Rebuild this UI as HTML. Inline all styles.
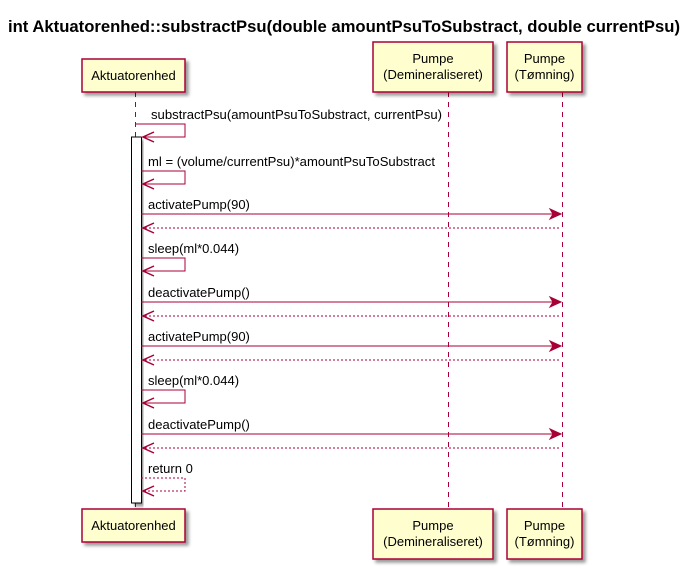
<!DOCTYPE html>
<html><head><meta charset="utf-8"><style>
html,body{margin:0;padding:0;background:#fff;}
svg{display:block;font-family:"Liberation Sans",Arial,sans-serif;}
</style></head><body>
<svg width="693" height="571" viewBox="0 0 693 571" xmlns="http://www.w3.org/2000/svg">
<defs>
<filter id="sh" x="-10%" y="-10%" width="130%" height="140%"><feGaussianBlur in="SourceAlpha" stdDeviation="1.5"/><feOffset dx="3" dy="3"/><feComponentTransfer><feFuncA type="linear" slope="0.4"/></feComponentTransfer><feMerge><feMergeNode/><feMergeNode in="SourceGraphic"/></feMerge></filter>
</defs>
<text x="344" y="32" text-anchor="middle" font-size="16.7" font-weight="bold" textLength="672" lengthAdjust="spacingAndGlyphs">int Aktuatorenhed::substractPsu(double amountPsuToSubstract, double currentPsu)</text>
<g stroke="#A80036" stroke-width="1" stroke-dasharray="5,5">
<line x1="135.5" y1="92" x2="135.5" y2="509"/>
<line x1="448.5" y1="92" x2="448.5" y2="509"/>
<line x1="562.5" y1="92" x2="562.5" y2="509"/>
</g>
<g fill="#FEFECE" stroke="#A80036" stroke-width="1.5" filter="url(#sh)">
<rect x="82" y="59" width="103" height="33"/>
<rect x="373" y="42" width="120" height="50"/>
<rect x="507" y="42" width="75" height="50"/>
<rect x="82" y="509" width="103" height="33"/>
<rect x="373" y="509" width="120" height="50"/>
<rect x="507" y="509" width="75" height="50"/>
</g>
<g font-size="13" text-anchor="middle" fill="#000">
<text x="133.5" y="80">Aktuatorenhed</text>
<text x="433" y="63">Pumpe</text><text x="433" y="79">(Demineraliseret)</text>
<text x="544.5" y="63">Pumpe</text><text x="544.5" y="79">(Tømning)</text>
<text x="133.5" y="530">Aktuatorenhed</text>
<text x="433" y="530">Pumpe</text><text x="433" y="546">(Demineraliseret)</text>
<text x="544.5" y="530">Pumpe</text><text x="544.5" y="546">(Tømning)</text>
</g>
<rect x="131.5" y="137" width="10" height="366" fill="#fff" stroke="#000" stroke-width="1" filter="url(#sh)"/>
<g stroke="#A80036" stroke-width="1" fill="none">
<polyline points="136,124 185,124 185,137 141,137"/>
<polyline points="141,171 185,171 185,184 141,184"/>
<line x1="141" y1="214" x2="561" y2="214"/>
<line x1="141" y1="228" x2="561" y2="228" stroke-dasharray="2,2"/>
<polyline points="141,258 185,258 185,271 141,271"/>
<line x1="141" y1="302" x2="561" y2="302"/>
<line x1="141" y1="316" x2="561" y2="316" stroke-dasharray="2,2"/>
<line x1="141" y1="346" x2="561" y2="346"/>
<line x1="141" y1="360" x2="561" y2="360" stroke-dasharray="2,2"/>
<polyline points="141,390 185,390 185,403 141,403"/>
<line x1="141" y1="434" x2="561" y2="434"/>
<line x1="141" y1="448" x2="561" y2="448" stroke-dasharray="2,2"/>
<polyline points="141,478 185,478 185,491 141,491" stroke-dasharray="2,2"/>
</g>
<g fill="none" stroke="#A80036" stroke-width="1.5">
<polyline points="154,132 143,137 154,142"/>
<polyline points="154,179 143,184 154,189"/>
<polyline points="154,223 143,228 154,233"/>
<polyline points="154,266 143,271 154,276"/>
<polyline points="154,311 143,316 154,321"/>
<polyline points="154,355 143,360 154,365"/>
<polyline points="154,398 143,403 154,408"/>
<polyline points="154,443 143,448 154,453"/>
<polyline points="154,486 143,491 154,496"/>
</g>
<g fill="#A80036" stroke="#A80036">
<polygon points="561,214 550,209 553,214 550,219"/>
<polygon points="561,302 550,297 553,302 550,307"/>
<polygon points="561,346 550,341 553,346 550,351"/>
<polygon points="561,434 550,429 553,434 550,439"/>
</g>
<g font-size="13" fill="#000">
<text x="151" y="119" textLength="291" lengthAdjust="spacingAndGlyphs">substractPsu(amountPsuToSubstract, currentPsu)</text>
<text x="148" y="166" textLength="287" lengthAdjust="spacingAndGlyphs">ml = (volume/currentPsu)*amountPsuToSubstract</text>
<text x="148" y="209">activatePump(90)</text>
<text x="148" y="253">sleep(ml*0.044)</text>
<text x="148" y="297">deactivatePump()</text>
<text x="148" y="341">activatePump(90)</text>
<text x="148" y="385">sleep(ml*0.044)</text>
<text x="148" y="429">deactivatePump()</text>
<text x="148" y="473">return 0</text>
</g>
</svg>
</body></html>
